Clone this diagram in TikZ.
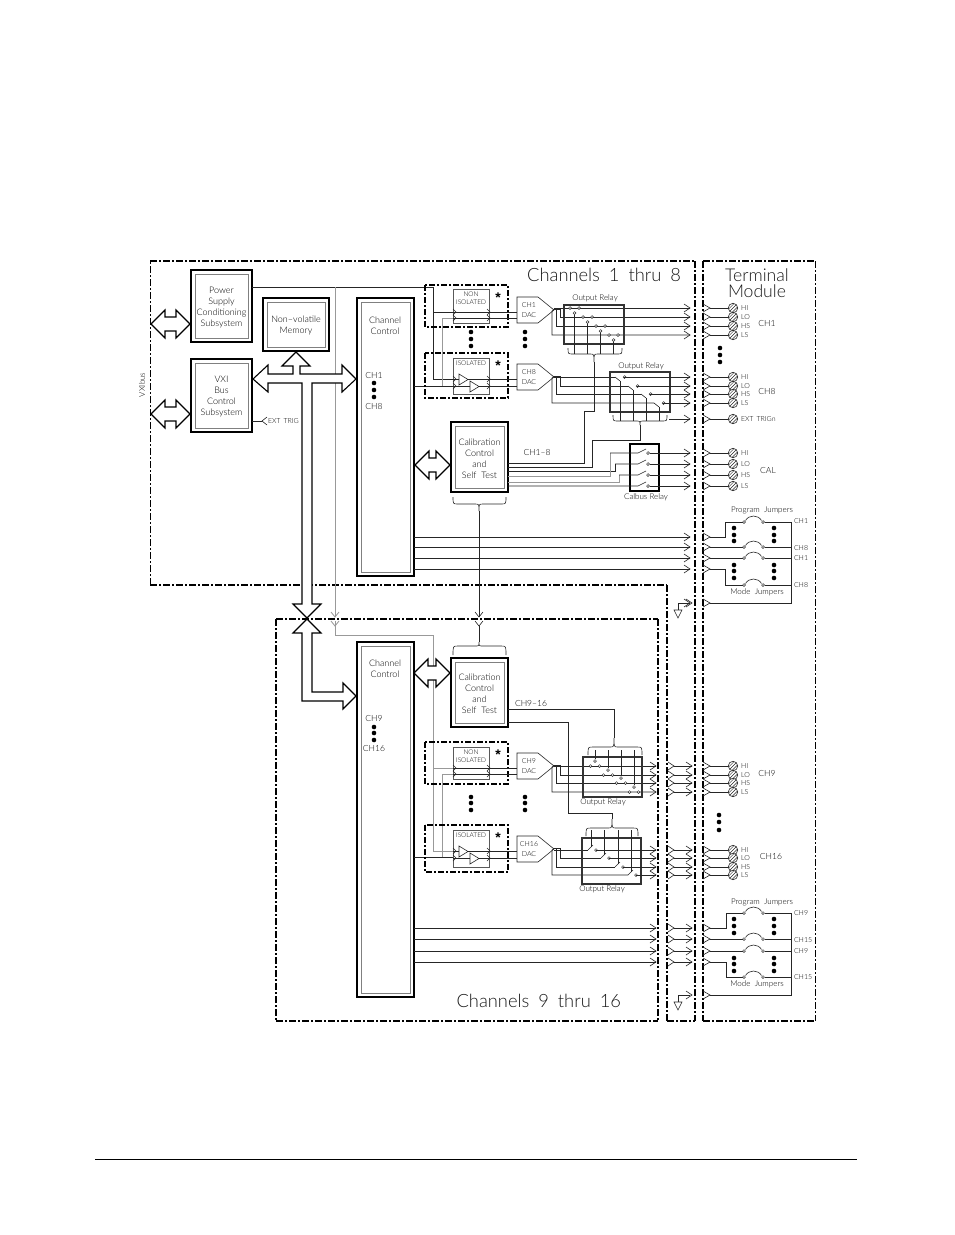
\documentclass[tikz,border=0pt]{standalone}
\usepackage{fontspec}
\setmainfont{Liberation Sans}
\newfontfamily\lightf{Lato Light}
\usetikzlibrary{calc}
\newcommand{\fsz}[1]{\fontsize{#1}{#1}\selectfont}
\tikzset{
  wire/.style={line width=.6,black!85},
  gwire/.style={line width=.8,black!40},
  border/.style={line width=1.4,black,dash pattern=on 7pt off 2pt on 2pt off 2pt},
  bordert/.style={line width=2.3,black,dash pattern=on 7pt off 2pt on 2pt off 2pt},
  borderf/.style={line width=.9,black,dash pattern=on 7pt off 2pt on 2pt off 2pt},
  subborder/.style={line width=1.2,black,dash pattern=on 6pt off 2pt on 2pt off 2pt},
  obox/.style={draw=black,line width=1.6,anchor=north west,inner sep=0,outer sep=0},
  ibox/.style={draw=black!50,line width=.7},
  relay/.style={draw=black!80,line width=1.6,anchor=north west,inner sep=0,outer sep=0},
  thinbox/.style={draw=black!65,line width=.6,anchor=north west,inner sep=0,outer sep=0},
  bus/.style={draw=black,line width=1.1,fill=white,line join=miter},
  lbl/.style={inner sep=0,outer sep=0,align=center,text=black!80},
  txt/.style={lbl,font=\lightf\fontsize{9}{11}\selectfont,text=black},
  mid/.style={lbl,font=\lightf\fsz{8},text=black},
  tiny/.style={lbl,font=\lightf\fsz{7},text=black},
  dacl/.style={lbl,font=\lightf\fontsize{7}{9.5}\selectfont,text=black},
  title/.style={lbl,text=black!90,font=\lightf\fsz{18.3}},
  dotn/.style={circle,fill=black,inner sep=0,minimum size=4.6},
  pin/.style={circle,draw=black!85,fill=white,line width=.5,inner sep=0,minimum size=2.8},
  screwn/.style={circle,draw=black!85,fill=white,line width=.6,inner sep=0,minimum size=9.5},
}
% boxed block with an inner gray outline and a centred label
\newcommand{\dblbox}[7][4]{%
  \node[obox,minimum width={#5-#3},minimum height={#6-#4}] (#2) at (#3,#4) {};
  \draw[ibox] ({#3+#1},{#4+#1}) rectangle ({#5-#1},{#6-#1});
  \ifx&#7&\else\node[txt] (#2t) at ({(#3+#5)/2},{(#4+#6)/2+1.5}) {#7};\fi
}
% double-headed block arrow
\newcommand{\dblarrow}[3]{%
  \draw[bus] (#1,#3) -- ({#1+14},{#3-14}) -- ({#1+14},{#3-7}) -- ({#2-14},{#3-7}) -- ({#2-14},{#3-14}) -- (#2,#3)
    -- ({#2-14},{#3+14}) -- ({#2-14},{#3+7}) -- ({#1+14},{#3+7}) -- ({#1+14},{#3+14}) -- cycle;
}
% open arrow heads: rightward, downward, small rightward
\newcommand{\cheva}[2]{\draw[wire] ({#1-6},{#2-4}) -- (#1,#2) -- ({#1-6},{#2+4});}
\newcommand{\chevd}[3][wire]{\draw[#1] ({#2-4},{#3-5}) -- (#2,#3) -- ({#2+4},{#3-5});}
\newcommand{\chevs}[2]{\draw[wire] ({#1-3},{#2-3}) -- (#1,#2) -- ({#1-3},{#2+3});}
% three stacked dots
\newcommand{\dotstack}[5]{\node[dotn] (#1a) at (#2,#3) {};\node[dotn] (#1b) at (#2,#4) {};\node[dotn] (#1c) at (#2,#5) {};}
% curly brace: x1, xmid, x2, y of ends, y of bar, y of tip
\newcommand{\cbrace}[6]{%
  \draw[wire] (#1,#4) .. controls (#1,#5) and (#1,#5) .. ({#1+5},#5) -- ({#2-4},#5)
    .. controls (#2,#5) and (#2,#5) .. (#2,#6) .. controls (#2,#5) and (#2,#5) .. ({#2+4},#5)
    -- ({#3-5},#5) .. controls (#3,#5) and (#3,#5) .. (#3,#4);
}
% terminal row: arrow, wire, hatched screw, signal name
\newcommand{\term}[3]{%
  \draw[wire] (703,{#2-4}) -- (710,#2) -- (703,{#2+4});
  \node[screwn] (#1) at (733,#2) {};
  \draw[wire] (710,#2) -- (#1);
  \begin{scope}[shift={(733,#2)},line width=.5,black!85]
    \draw (-3.3,3.3) -- (3.3,-3.3); \draw (-4.3,.9) -- (.9,-4.3); \draw (-.9,4.3) -- (4.3,-.9);
  \end{scope}
  \node[tiny,anchor=west] (#1l) at (741,#2) {#3};
}
% digital to analog converter outline with its label
\newcommand{\dac}[3]{%
  \draw[line width=.6,black!85] (517,#2) -- (538,#2) -- (554,{#2+13}) -- (538,{#2+26}) -- (517,{#2+26}) -- cycle;
  \coordinate (#1tip) at (554,{#2+12});
  \node[dacl] (#1) at (529,{#2+13}) {#3};
}
% the four lines that leave a converter
\newcommand{\fanout}[9]{%
  \draw[wire] (#1tip |- 0,#2) -- (#6,#2);
  \draw[wire] (#1tip) -- ++(6,0) |- (#7,#3);
  \draw[wire] (#1tip) -- ++(2,0) |- (#8,#4);
  \draw[wire] (#1tip) -- ++(-2,2) |- (#9,#5);
}
% relay contact sets: wiper beside a closed pair / lever with open contact
\newcommand{\contactA}[5]{% x y wipery yend
  \node[pin] at ({#1-4.5},#2) {}; \node[pin] at ({#1+4.5},#2) {};
  \node[pin] (#5) at (#1,#3) {};
  \draw[wire] (#5) -- (#1,#4);
}
\newcommand{\contactB}[3]{% x y yend
  \node[pin] at ({#1+4.5},#2) {};
  \draw[wire] ({#1-5},#2) -- ({#1},{#2+4});
  \draw[wire] (#1,{#2+4}) -- (#1,#3);
}
\newcommand{\contactC}[3]{% x y ytop
  \node[pin] at ({#1+5},#2) {};
  \draw[wire] ({#1-3},#2) -- ({#1+2},{#2-5});
  \draw[wire] (#1,{#2-3}) -- (#1,#3);
}
\newcommand{\calsw}[3]{% y xin
  \draw[wire] (#2,#1) -- (638,#1) -- (646,{#1-4});
  \node[pin] (#3) at (648,#1) {};
  \draw[wire] (#3) -- (690,#1);
}
% jumper: pin, arc, pin, wire out
\newcommand{\jumper}[2]{%
  \node[pin] (#1a) at (744,#2) {};
  \node[pin] (#1b) at (763,#2) {};
  \draw[wire] (745.5,{#2-1.5}) .. controls (749,{#2-7.5}) and (758,{#2-7.5}) .. (761.5,{#2-1.5});
  \draw[wire] (#1b) -- (791,#2);
}
\begin{document}
\begin{tikzpicture}[x=1pt,y=-1pt]
\useasboundingbox (0,0) rectangle (954,1235);
\fill[white] (0,0) rectangle (954,1235);

% ---- enclosures
\draw[border] (150,261) -- (695,261);
\draw[border] (150,585) -- (667,585);
\draw[borderf] (150,585) -- (150,261);
\draw[bordert] (695,261) -- (695,1021);
\draw[bordert] (667,585) -- (667,1021);
\draw[border] (667,1021) -- (695,1021);
\draw[border] (703,261) -- (815,261);
\draw[bordert] (703,261) -- (703,1021);
\draw[borderf] (815,261) -- (815,1021);
\draw[border] (703,1021) -- (815,1021);
\draw[border] (276,619) -- (658,619);
\draw[bordert] (276,619) -- (276,1021);
\draw[bordert] (658,619) -- (658,1021);
\draw[border] (276,1021) -- (658,1021);

\node[title,anchor=east] (t1) at (681,275) {Channels\hspace{4pt} 1\hspace{4pt} thru\hspace{4pt} 8};
\node[lbl,text=black!90,font=\lightf\fsz{17.6}] (t2a) at (757,275) {Terminal};
\node[lbl,text=black!90,font=\lightf\fsz{17.6}] (t2b) at (757,291.5) {Module};
\node[title,anchor=east] (t3) at (621,1001) {Channels\hspace{4pt} 9\hspace{4pt} thru\hspace{4pt} 16};
\node[mid,rotate=90] (vxibus) at (142,385) {VXIbus};

% ---- blocks of the first channel group
\dblbox{ps}{191}{270}{252}{342}{Power\\Supply\\Conditioning\\Subsystem}
\dblbox{vxi}{191}{359}{252}{432}{VXI\\Bus\\Control\\Subsystem}
\dblbox{mem}{263}{298}{329}{351}{Non–volatile\\Memory}
\dblbox{cc}{357}{298}{414}{576}{}
\dblbox{cal}{451}{422}{508}{492}{Calibration\\Control\\and\\Self \ Test}
\node[txt] (cct) at (385,326) {Channel\\Control};
\node[mid,font=\lightf\fsz{8.5}] (ch1) at (374,375) {CH1};
\dotstack{ccd}{374}{383}{390}{397}
\node[mid,font=\lightf\fsz{8.5}] (ch8) at (374,406) {CH8};

% ---- blocks of the second channel group
\dblbox{ccb}{357}{642}{414}{997}{}
\dblbox{calb}{451}{658}{508}{727}{Calibration\\Control\\and\\Self \ Test}
\node[txt] (ccbt) at (385,669) {Channel\\Control};
\node[mid,font=\lightf\fsz{8.5}] (ch9) at (374,718) {CH9};
\dotstack{ccbd}{374}{727}{733}{740}
\node[mid,font=\lightf\fsz{8.5}] (ch16) at (374,748) {CH16};

% ---- supply and control lines, upper group
\draw[wire] (ps.east |- 0,287) -- (433,287) -- (433,379) -- (453,379);
\draw[wire] (433,312) -- (453,312);
\draw[gwire] (335,287) -- (335,617);
\draw[gwire] (335,621) -- (335,635) -- (433,635) -- (433,851) -- (453,851);
\draw[gwire] (433,768) -- (453,768);
\chevd[gwire]{335}{617}
\chevd[gwire]{335}{626}
\draw[wire] (cc.east |- 0,386) -- (453,386);
\draw[gwire] (442,386) -- (442,318) -- (453,318);
\draw[wire] (ccb.east |- 0,857) -- (453,857);
\draw[gwire] (442,857) -- (442,774) -- (453,774);

% ---- block arrows
\dblarrow{151}{190}{324}
\dblarrow{151}{190}{414}
\dblarrow{415}{450}{465}
\dblarrow{414}{450}{673}
\draw[bus] (253,379) -- (268,365) -- (268,374) -- (293,374) -- (293,366) -- (282,366) -- (296,352) -- (310,366)
  -- (300,366) -- (300,374) -- (342,374) -- (342,365) -- (356,379) -- (342,392) -- (342,383) -- (312,383)
  -- (312,604) -- (321,604) -- (307,618) -- (293,604) -- (302,604) -- (302,383) -- (268,383) -- (268,392) -- cycle;
\draw[bus] (307,619) -- (321,633) -- (312,633) -- (312,692) -- (343,692) -- (343,683) -- (356,696) -- (343,709)
  -- (343,701) -- (302,701) -- (302,633) -- (293,633) -- cycle;

% ---- trigger output of the bus control
\coordinate (exttip) at (262,421);
\draw[wire] (vxi.east |- exttip) -- (exttip);
\draw[wire] (267,417) -- (exttip) -- (267,425);
\node[tiny,anchor=west] (extt) at (268,421) {EXT \,TRIG};

% ---- isolation stages
\newcommand{\stage}[8]{%
  \draw[subborder] (425,#2) rectangle (508,#3);
  \node[thinbox,minimum width=36,minimum height={#5-#4}] (#1) at (453,#4) {};
  \node[lbl,font=\bfseries\fsz{14},text=black] (#1s) at (498,{#2+13}) {*};
  \foreach \yy in {#6,#7} {\chevs{456}{\yy}\chevs{490}{\yy}\draw[wire] (489,\yy) -- (517,\yy);}
  #8
}
\stage{ns1}{285}{327}{289}{323}{312}{318}{\draw[wire] (453,312) -- (489,312);\draw[wire] (453,318) -- (489,318);
  \node[lbl,font=\lightf\fsz{6.5},text=black] (ns1t) at (471,298) {NON\\[1.5pt]ISOLATED};}
\stage{is1}{353}{398}{358}{394}{379}{386}{\draw[wire,fill=white] (459,374) -- (468,379.5) -- (459,385) -- cycle;
  \draw[wire,fill=white] (470,381) -- (479,386.5) -- (470,392) -- cycle;\draw[wire] (453,379) -- (459,379);\draw[wire] (468,379) -- (489,379);
  \draw[wire] (453,386) -- (470,386);\draw[wire] (479,386) -- (489,386);
  \node[lbl,font=\lightf\fsz{6.5},text=black] (is1t) at (471,363) {ISOLATED};}
\stage{ns2}{742}{784}{747}{779}{768}{774}{\draw[wire] (453,768) -- (489,768);\draw[wire] (453,774) -- (489,774);
  \node[lbl,font=\lightf\fsz{6.5},text=black] (ns2t) at (471,756.5) {NON\\[1.5pt]ISOLATED};}
\stage{is2}{825}{872}{830}{867}{851}{858}{\draw[wire,fill=white] (459,846) -- (468,851.5) -- (459,857) -- cycle;
  \draw[wire,fill=white] (470,853) -- (479,858.5) -- (470,864) -- cycle;\draw[wire] (453,851) -- (459,851);\draw[wire] (468,851) -- (489,851);
  \draw[wire] (453,858) -- (470,858);\draw[wire] (479,858) -- (489,858);
  \node[lbl,font=\lightf\fsz{6.5},text=black] (is2t) at (471,835.5) {ISOLATED};}

\dotstack{sa}{471}{332}{339}{346}
\dotstack{sb}{525}{332}{339}{346}
\dotstack{sc}{471}{797}{803}{810}
\dotstack{sd}{525}{797}{803}{810}

% ---- converters
\dac{dac1}{297}{CH1\\DAC}
\dac{dac8}{364}{CH8\\DAC}
\dac{dac9}{753}{CH9\\DAC}
\dac{dac16}{836}{CH16\\DAC}

% ---- output relay, channel 1
\fanout{dac1}{308}{317}{326}{335}{690}{690}{690}{690}
\node[relay,minimum width=60,minimum height=39] (r1) at (564,305) {};
\node[mid] (r1t) at (595,298) {Output Relay};
\contactA{574.5}{308}{313}{354}{a1}
\contactA{587.5}{317}{322}{354}{a2}
\contactA{600.5}{326}{331}{354}{a3}
\contactA{613.5}{335}{340}{354}{a4}
\cbrace{568}{594}{622}{348}{354}{362}

% ---- output relay, channel 8
\fanout{dac8}{377}{386}{394}{403}{615}{628}{641}{654}
\node[relay,minimum width=60,minimum height=40] (r8) at (610,372) {};
\node[mid] (r8t) at (641,366) {Output Relay};
\contactB{620}{377}{421}
\contactB{633}{386}{421}
\contactB{646}{394}{421}
\contactB{659}{403}{421}
\draw[wire] (624,377) -- (690,377);
\draw[wire] (637,386) -- (690,386);
\draw[wire] (650,394) -- (690,394);
\draw[wire] (663,403) -- (690,403);
\cbrace{613}{640}{667}{415}{421}{425}

% ---- output relay, channel 9
\fanout{dac9}{766}{775}{783}{792}{656}{656}{656}{656}
\node[relay,minimum width=59,minimum height=40] (r9) at (583,757) {};
\node[mid] (r9t) at (603,802) {Output Relay};
\contactA{595}{766}{761}{750}{b1}
\contactA{608}{775}{770}{750}{b2}
\contactA{621}{783}{778}{750}{b3}
\contactA{634}{792}{787}{750}{b4}
\cbrace{588}{614}{642}{755}{747}{738}

% ---- output relay, channel 16
\fanout{dac16}{850}{858}{867}{875}{588}{601}{615}{628}
\node[relay,minimum width=59,minimum height=46] (r16) at (582,838) {};
\node[mid] (r16t) at (602,889) {Output Relay};
\contactC{591}{850}{830}
\contactC{604}{858}{830}
\contactC{618}{867}{830}
\contactC{631}{875}{830}
\draw[wire] (596,850) -- (656,850);
\draw[wire] (609,858) -- (656,858);
\draw[wire] (623,867) -- (656,867);
\draw[wire] (636,875) -- (656,875);
\cbrace{586}{612}{638}{836}{828}{819}

% ---- calibration outputs and calibration relay
\node[relay,draw=black,minimum width=29,minimum height=47] (cr) at (630,444) {};
\node[mid] (crt) at (646,497) {Calbus Relay};
\draw[wire] (cal.east |- 0,463) -- (584,463) -- (584,411) -- (594,411) -- (594,362);
\draw[wire] (cal.east |- 0,467) -- (592,467) -- (592,440) -- (640,440) -- (640,425);
\draw[wire] (cal.east |- 0,471) -- (615,471) -- (615,464);
\draw[gwire] (cal.east |- 0,476) -- (610,476) -- (610,453);
\draw[gwire] (cal.east |- 0,482) -- (619,482) -- (619,475);
\calsw{453}{610}{c1}
\calsw{464}{615}{c2}
\calsw{475}{619}{c3}
\calsw{486}{508}{c4}
\node[mid,font=\lightf\fsz{8.5}] (cha) at (537,452) {CH1–8};
\node[mid,font=\lightf\fsz{8.5}] (chb) at (531,703) {CH9–16};

\draw[wire] (calb.east |- 0,709) -- (614,709) -- (614,738);
\draw[wire] (calb.east |- 0,722) -- (568,722) -- (568,813) -- (612,813) -- (612,819);

% ---- calibration link between the two groups
\cbrace{453}{479}{506}{497}{504}{511}
\draw[wire] (479,511) -- (479,617);
\chevd{479}{617}
\chevd{479}{626}
\draw[wire] (479,626) -- (479,642);
\cbrace{453}{479}{506}{655}{646}{642}

% ---- external trigger line
\draw[wire] (669,419) -- (690,419);
\cheva{690}{419}

% ---- arrow heads at the first group's edge
\foreach \yy in {308,317,326,335,377,386,394,403,453,464,475,486,537,547,558,569,603} {\cheva{690}{\yy}}
% ---- arrow heads in the second group's path
\foreach \yy in {766,775,783,792,850,858,867,875,928,939,951,962} {
  \cheva{656}{\yy}
  \draw[wire] (668,{\yy-4}) -- (674,\yy) -- (668,{\yy+4});
  \draw[wire] (674,\yy) -- (692,\yy);
  \cheva{692}{\yy}
}

% ---- terminal module rows
\term{t1hi}{308}{HI}\term{t1lo}{317}{LO}\term{t1hs}{326}{HS}\term{t1ls}{335}{LS}
\term{t8hi}{377}{HI}\term{t8lo}{386}{LO}\term{t8hs}{394}{HS}\term{t8ls}{403}{LS}
\term{tex}{419}{EXT \,TRIGn}
\term{tchi}{453}{HI}\term{tclo}{464}{LO}\term{tchs}{475}{HS}\term{tcls}{486}{LS}
\term{t9hi}{766}{HI}\term{t9lo}{775}{LO}\term{t9hs}{783}{HS}\term{t9ls}{792}{LS}
\term{t16hi}{850}{HI}\term{t16lo}{858}{LO}\term{t16hs}{867}{HS}\term{t16ls}{875}{LS}
\node[mid,font=\lightf\fsz{8.5}] (lch1) at (767,323) {CH1};
\node[mid,font=\lightf\fsz{8.5}] (lch8) at (767,391) {CH8};
\node[mid,font=\lightf\fsz{8.5}] (lcal) at (768,470) {CAL};
\node[mid,font=\lightf\fsz{8.5}] (lch9) at (767,773) {CH9};
\node[mid,font=\lightf\fsz{8.5}] (lch16) at (771,856) {CH16};
\dotstack{te}{720}{348}{355}{362}
\dotstack{tf}{719}{815}{822}{830}

% ---- lines out of the channel control blocks
\foreach \yy in {537,547,558,569} {\draw[wire] (cc.east |- 0,\yy) -- (690,\yy);}
\foreach \yy in {928,939,951,962} {\draw[wire] (ccb.east |- 0,\yy) -- (656,\yy);}

% ---- jumpers, upper set
\foreach \yy in {537,547,558,569,603} {\draw[wire] (703,{\yy-4}) -- (710,\yy) -- (703,{\yy+4});}
\draw[wire] (710,537) -- (725,537) -- (725,522) -- (742.5,522);
\draw[wire] (710,547) -- (742.5,547);
\draw[wire] (710,558) -- (742.5,558);
\draw[wire] (710,569) -- (725,569) -- (725,585) -- (742.5,585);
\jumper{ja}{522}
\jumper{jb}{547}
\jumper{jc}{558}
\jumper{jd}{585}
\draw[wire] (791,522) -- (791,603) -- (710,603);
\node[tiny,anchor=west] (la) at (794,521) {CH1};
\node[tiny,anchor=west] (lb) at (794,548) {CH8};
\node[tiny,anchor=west] (lc) at (794,558) {CH1};
\node[tiny,anchor=west] (ld) at (794,585) {CH8};
\node[mid] (pj1) at (762,510) {Program \ Jumpers};
\node[mid] (mj1) at (757,592) {Mode \ Jumpers};
\dotstack{ja1}{734}{528}{535}{541}
\dotstack{ja2}{774}{528}{535}{541}
\dotstack{jb1}{734}{565}{571}{578}
\dotstack{jb2}{774}{565}{571}{578}

% ---- jumpers, lower set
\foreach \yy in {928,939,951,962,995} {\draw[wire] (703,{\yy-4}) -- (710,\yy) -- (703,{\yy+4});}
\draw[wire] (710,928) -- (726,928) -- (726,913) -- (742.5,913);
\draw[wire] (710,939) -- (742.5,939);
\draw[wire] (710,951) -- (742.5,951);
\draw[wire] (710,962) -- (726,962) -- (726,977) -- (742.5,977);
\jumper{jk}{913}
\jumper{jl}{939}
\jumper{jm}{951}
\jumper{jn}{977}
\draw[wire] (791,913) -- (791,995) -- (710,995);
\node[tiny,anchor=west] (lk) at (794,913) {CH9};
\node[tiny,anchor=west] (ll) at (794,940) {CH15};
\node[tiny,anchor=west] (lm) at (794,951) {CH9};
\node[tiny,anchor=west] (ln) at (794,977) {CH15};
\node[mid] (pj2) at (762,902) {Program \ Jumpers};
\node[mid] (mj2) at (757,984) {Mode \ Jumpers};
\dotstack{jc1}{734}{919}{926}{933}
\dotstack{jc2}{774}{919}{926}{933}
\dotstack{jd1}{734}{958}{964}{971}
\dotstack{jd2}{774}{958}{964}{971}

% ---- chassis returns
\draw[wire] (690,603) -- (678,603) -- (678,610);
\cheva{692}{603}
\draw[wire] (674,610) -- (682,610) -- (678,618) -- cycle;
\draw[wire] (690,995) -- (678,995) -- (678,1002);
\cheva{692}{995}
\draw[wire] (674,1002) -- (682,1002) -- (678,1010) -- cycle;

% ---- page rule
\draw[line width=.7,black] (95,1159) -- (857,1159);
\end{tikzpicture}
\end{document}
